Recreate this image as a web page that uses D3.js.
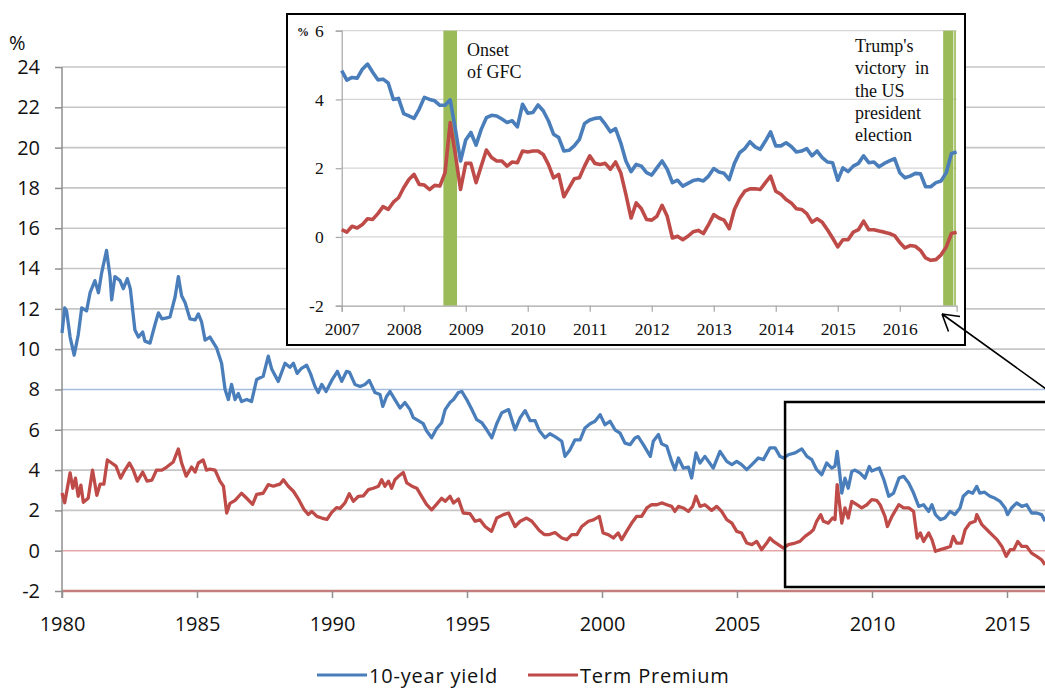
<!DOCTYPE html>
<html><head><meta charset="utf-8">
<script src="https://cdn.jsdelivr.net/npm/d3@7"></script>
<style>
body{margin:0;background:#fff}
svg{display:block}
</style></head><body>
<svg id="chart" width="1045" height="695"></svg>
<script>
// US 10-year Treasury yield and term premium, 1980 onwards (decimal years, %)
const yieldYears = [1980.0,1980.1,1980.17,1980.3,1980.45,1980.6,1980.73,1980.91,1981.04,1981.22,1981.35,1981.47,1981.65,1981.78,1981.84,1981.96,1982.15,1982.27,1982.42,1982.53,1982.7,1982.83,1982.99,1983.07,1983.26,1983.44,1983.57,1983.7,1983.88,1984.0,1984.19,1984.31,1984.43,1984.56,1984.74,1984.93,1985.05,1985.17,1985.3,1985.48,1985.73,1985.91,1986.04,1986.16,1986.28,1986.41,1986.53,1986.65,1986.84,1987.02,1987.21,1987.45,1987.64,1987.77,1988.01,1988.26,1988.44,1988.57,1988.71,1988.87,1989.06,1989.2,1989.37,1989.49,1989.62,1989.78,1989.99,1990.2,1990.36,1990.54,1990.65,1990.85,1991.04,1991.22,1991.38,1991.59,1991.78,1991.88,1992.02,1992.15,1992.33,1992.52,1992.7,1992.89,1993.01,1993.2,1993.38,1993.5,1993.69,1993.87,1994.06,1994.19,1994.37,1994.5,1994.68,1994.81,1994.99,1995.18,1995.36,1995.55,1995.73,1995.92,1996.1,1996.29,1996.54,1996.78,1996.97,1997.15,1997.34,1997.52,1997.68,1997.89,1998.07,1998.26,1998.51,1998.63,1998.81,1999.0,1999.19,1999.37,1999.56,1999.74,1999.93,2000.11,2000.3,2000.48,2000.67,2000.85,2001.04,2001.22,2001.34,2001.53,2001.79,2001.9,2002.09,2002.21,2002.4,2002.58,2002.7,2002.83,2003.01,2003.2,2003.32,2003.48,2003.63,2003.81,2004.12,2004.37,2004.62,2004.81,2004.99,2005.17,2005.36,2005.55,2005.79,2005.98,2006.22,2006.41,2006.59,2006.72,2006.9,2007.15,2007.4,2007.59,2007.77,2007.95,2008.14,2008.32,2008.51,2008.63,2008.71,2008.81,2008.88,2009.0,2009.12,2009.25,2009.37,2009.56,2009.74,2009.9,2009.99,2010.27,2010.44,2010.62,2010.8,2011.0,2011.17,2011.36,2011.54,2011.73,2011.91,2012.1,2012.22,2012.35,2012.53,2012.7,2012.89,2013.07,2013.26,2013.38,2013.57,2013.73,2013.88,2013.99,2014.17,2014.37,2014.56,2014.74,2014.93,2015.02,2015.17,2015.36,2015.55,2015.73,2015.91,2016.1,2016.28,2016.41];
const yieldValues = [10.8,12.05,11.9,10.6,9.7,10.7,12.05,11.9,12.8,13.4,12.8,13.8,14.9,13.6,12.45,13.6,13.4,13.0,13.5,13.0,10.95,10.6,10.85,10.4,10.3,11.2,11.8,11.5,11.55,11.6,12.6,13.6,12.65,12.3,11.5,11.45,11.75,11.35,10.45,10.6,10.05,9.3,8.0,7.5,8.25,7.5,7.8,7.4,7.5,7.4,8.5,8.65,9.65,9.0,8.4,9.3,9.1,9.3,8.8,9.05,9.2,8.8,8.15,7.85,8.25,7.9,8.45,8.9,8.4,8.9,8.85,8.25,8.15,8.25,8.45,7.85,7.75,7.16,7.65,7.9,7.5,7.08,7.35,7.0,6.6,6.45,6.3,5.95,5.6,6.05,6.35,7.0,7.35,7.5,7.85,7.9,7.5,7.0,6.5,6.35,6.0,5.6,6.3,6.85,7.0,6.0,6.6,6.95,6.45,6.45,5.95,5.6,5.8,5.66,5.43,4.68,5.0,5.5,5.5,6.09,6.3,6.42,6.75,6.25,6.42,6.0,5.83,5.34,5.26,5.59,5.66,5.26,4.68,5.43,5.76,5.3,5.18,4.43,4.02,4.6,4.1,4.15,3.61,4.85,4.35,4.68,4.1,4.93,4.43,4.27,4.43,4.27,4.02,4.27,4.6,4.52,5.1,5.1,4.68,4.6,4.76,4.85,5.05,4.68,4.52,4.02,3.77,4.35,4.1,4.2,4.93,3.77,2.86,3.6,3.1,3.93,4.0,3.85,3.6,4.18,3.95,4.1,3.52,2.7,2.86,3.6,3.69,3.36,2.86,2.2,2.28,1.95,2.28,1.79,1.54,1.62,1.95,1.79,2.12,2.7,2.94,2.85,3.19,2.86,2.9,2.7,2.6,2.45,2.12,1.79,2.12,2.37,2.2,2.28,1.87,1.87,1.79,1.46];
const premiumYears = [1980.0,1980.1,1980.3,1980.4,1980.5,1980.6,1980.7,1980.79,1980.97,1981.13,1981.29,1981.41,1981.55,1981.68,1981.84,1982.0,1982.17,1982.33,1982.5,1982.64,1982.79,1982.99,1983.15,1983.33,1983.5,1983.7,1983.88,1984.12,1984.31,1984.43,1984.6,1984.8,1984.93,1985.05,1985.23,1985.35,1985.48,1985.67,1985.85,1985.98,1986.1,1986.22,1986.41,1986.65,1986.84,1987.06,1987.21,1987.45,1987.64,1987.83,1988.07,1988.2,1988.38,1988.57,1988.77,1988.96,1989.12,1989.25,1989.44,1989.62,1989.81,1989.99,1990.17,1990.3,1990.48,1990.64,1990.79,1990.98,1991.16,1991.35,1991.53,1991.72,1991.84,1991.96,1992.09,1992.21,1992.33,1992.46,1992.64,1992.77,1992.96,1993.14,1993.32,1993.5,1993.69,1993.87,1994.06,1994.19,1994.37,1994.5,1994.68,1994.86,1995.11,1995.3,1995.48,1995.67,1995.91,1996.1,1996.35,1996.54,1996.78,1996.97,1997.21,1997.4,1997.68,1997.86,1998.05,1998.26,1998.51,1998.7,1998.88,1999.07,1999.25,1999.5,1999.68,1999.9,2000.04,2000.23,2000.42,2000.6,2000.73,2000.91,2001.1,2001.28,2001.47,2001.66,2001.84,2002.03,2002.21,2002.4,2002.58,2002.7,2002.83,2003.01,2003.2,2003.36,2003.48,2003.63,2003.81,2004.06,2004.25,2004.43,2004.62,2004.81,2004.99,2005.17,2005.36,2005.55,2005.73,2005.91,2006.1,2006.22,2006.35,2006.53,2006.72,2006.9,2007.15,2007.33,2007.52,2007.7,2007.83,2007.95,2008.1,2008.2,2008.38,2008.54,2008.63,2008.71,2008.81,2008.88,2009.0,2009.12,2009.25,2009.44,2009.62,2009.81,2009.99,2010.17,2010.3,2010.48,2010.57,2010.74,2010.99,2011.17,2011.36,2011.54,2011.67,2011.79,2011.91,2012.1,2012.22,2012.35,2012.53,2012.72,2012.9,2013.01,2013.13,2013.32,2013.45,2013.63,2013.82,2013.88,2014.07,2014.26,2014.44,2014.63,2014.81,2014.97,2015.12,2015.25,2015.4,2015.55,2015.73,2015.91,2016.1,2016.28,2016.41];
const premiumValues = [2.86,2.38,3.86,3.1,3.6,2.7,3.25,2.4,2.6,4.0,2.75,3.3,3.3,4.5,4.35,4.2,3.6,4.0,4.35,4.0,3.45,3.9,3.45,3.5,4.0,4.0,4.15,4.4,5.05,4.35,3.7,4.15,3.9,4.35,4.5,4.0,4.05,4.0,3.45,3.2,1.87,2.35,2.5,2.85,2.6,2.3,2.8,2.85,3.28,3.2,3.3,3.52,3.2,2.95,2.53,2.05,1.8,1.95,1.7,1.62,1.55,1.9,2.14,2.1,2.37,2.83,2.45,2.7,2.72,3.03,3.1,3.2,3.52,3.2,3.45,3.1,3.52,3.69,3.88,3.36,3.2,3.1,2.7,2.3,2.03,2.3,2.6,2.45,2.7,2.37,2.57,1.87,1.84,1.46,1.53,1.2,0.96,1.62,1.79,1.87,1.2,1.46,1.62,1.46,1.0,0.8,0.8,0.9,0.63,0.55,0.8,0.8,1.2,1.46,1.53,1.7,0.88,0.8,0.63,0.88,0.55,0.96,1.37,1.7,1.7,2.12,2.28,2.28,2.37,2.28,2.2,1.95,2.2,2.12,1.95,2.2,2.7,2.2,2.28,2.0,2.2,1.95,1.54,1.37,0.96,0.88,0.38,0.3,0.46,0.05,0.38,0.63,0.46,0.3,0.13,0.3,0.38,0.46,0.71,0.88,1.04,1.46,1.79,1.46,1.37,1.62,1.55,3.28,2.2,1.37,2.12,1.62,2.45,2.28,2.12,2.28,2.53,2.5,2.28,1.7,1.2,1.7,2.28,2.12,2.12,1.95,0.63,0.88,0.46,0.88,0.55,-0.03,0.05,0.13,0.21,0.71,0.38,0.38,1.04,1.37,1.46,1.79,1.29,1.04,0.8,0.55,0.21,-0.28,0.05,0.05,0.46,0.21,0.21,-0.12,-0.28,-0.45,-0.7];

// Month-end values, January 2007 to December 2016
const insetStartYear = 2007;
const insetYield = [4.84,4.56,4.64,4.62,4.88,5.03,4.79,4.57,4.59,4.48,4.0,4.03,
  3.59,3.52,3.45,3.72,4.06,4.0,3.96,3.83,3.83,3.99,3.13,2.21,
  2.82,3.04,2.67,3.13,3.47,3.54,3.52,3.43,3.33,3.38,3.2,3.86,
  3.6,3.62,3.84,3.67,3.38,2.99,2.89,2.5,2.52,2.65,2.84,3.3,
  3.4,3.45,3.47,3.28,3.06,3.15,2.74,2.21,1.9,2.11,2.06,1.87,
  1.8,2.01,2.21,1.97,1.58,1.65,1.48,1.56,1.64,1.67,1.63,1.77,
  1.99,1.89,1.85,1.67,2.14,2.45,2.57,2.77,2.62,2.55,2.79,3.06,
  2.65,2.65,2.74,2.63,2.47,2.5,2.57,2.36,2.5,2.31,2.18,2.16,
  1.65,2.01,1.9,2.06,2.14,2.36,2.16,2.18,2.04,2.14,2.21,2.28,
  1.87,1.72,1.77,1.85,1.84,1.46,1.46,1.58,1.63,1.87,2.43,2.47];
const insetPremium = [0.21,0.14,0.31,0.26,0.36,0.53,0.51,0.68,0.88,0.8,1.01,1.14,
  1.43,1.67,1.82,1.53,1.51,1.38,1.5,1.48,1.87,3.33,2.4,1.38,
  2.14,2.14,1.58,2.06,2.53,2.31,2.21,2.21,2.06,2.18,2.16,2.5,
  2.47,2.5,2.5,2.4,2.11,1.72,1.82,1.17,1.43,1.69,1.72,2.06,
  2.36,2.14,2.11,2.14,1.97,2.18,1.87,1.24,0.55,0.99,0.82,0.51,
  0.49,0.6,0.92,0.6,-0.03,0.02,-0.08,0.02,0.15,0.19,0.1,0.36,
  0.65,0.55,0.49,0.24,0.8,1.11,1.33,1.4,1.4,1.38,1.58,1.77,
  1.33,1.24,1.09,0.99,0.82,0.8,0.68,0.43,0.53,0.43,0.21,-0.03,
  -0.29,-0.08,-0.08,0.14,0.21,0.46,0.21,0.21,0.17,0.14,0.1,0.04,
  -0.16,-0.32,-0.25,-0.27,-0.39,-0.61,-0.68,-0.66,-0.52,-0.29,0.1,0.14];

const mainYTicks = [-2,0,2,4,6,8,10,12,14,16,18,20,22,24];
const mainXTicks = [1980,1985,1990,1995,2000,2005,2010,2015];
const insetYTicks = [-2,0,2,4,6];
const insetXTicks = [2007,2008,2009,2010,2011,2012,2013,2014,2015,2016];
const seriesNames = ["10-year yield","Term Premium"];
const gfcBand = [2008.64, 2008.86];
const electionBand = [2016.70, 2016.865];
const electionSliver = [2016.878, 2016.905];
const zoomWindow = [2006.78, 2016.4];
const gfcNote = ["Onset","of GFC"];
const electionNote = ["Trump's","victory  in","the US","president","election"];

const BLUE = "#4a7ebb", RED = "#be4b48", GREEN = "#9bbb59";
const sans = "'Open Sans', sans-serif", serif = "'Liberation Serif', 'Times New Roman', serif";

const svg = d3.select("#chart");

// ---------- main chart ----------
const xMain = d3.scaleLinear().domain([1980, 2016.4]).range([62, 1044.8]);
const yMain = d3.scaleLinear().domain([-2, 24]).range([591, 67]);

const gridColor = v => v === 8 ? "#a3bde0" : v === 0 ? "#e4a9a7" : v === -2 ? "#c47f7d" : "#c6c6c6";
svg.append("g").selectAll("line").data(mainYTicks).join("line")
  .attr("x1", 62).attr("x2", 1045)
  .attr("y1", d => yMain(d)).attr("y2", d => yMain(d))
  .attr("stroke", gridColor)
  .attr("stroke-width", d => d === -2 ? 2.6 : 1.6);

const yAx = svg.append("g").attr("transform", "translate(62,0)")
  .call(d3.axisLeft(yMain).tickValues(mainYTicks).tickSize(7).tickPadding(15).tickFormat(d => String(d)));
yAx.select(".domain").remove();
yAx.selectAll("line").attr("stroke", "#8f8f8f").attr("stroke-width", 1.5);
yAx.selectAll("text").attr("font-family", sans).attr("font-size", 20).attr("fill", "#111");

const xAx = svg.append("g").attr("transform", `translate(0,${yMain(-2)})`)
  .call(d3.axisBottom(xMain).tickValues(mainXTicks).tickSize(7).tickFormat(d => String(d)));
xAx.select(".domain").remove();
xAx.selectAll("line").attr("stroke", "#8f8f8f").attr("stroke-width", 1.5);
xAx.selectAll("text").attr("font-family", sans).attr("font-size", 20).attr("fill", "#111")
  .attr("dy", null).attr("y", 40);

svg.append("line").attr("x1", 62).attr("x2", 62).attr("y1", yMain(24)).attr("y2", yMain(-2) + 7)
  .attr("stroke", "#8f8f8f").attr("stroke-width", 1.5);

svg.append("text").attr("x", 9).attr("y", 50).attr("font-family", sans).attr("font-size", 20)
  .attr("fill", "#111").text("%");

const mainLine = d3.line().x(d => xMain(d[0])).y(d => yMain(d[1])).curve(d3.curveLinear);
svg.append("path").datum(d3.zip(yieldYears, yieldValues)).attr("d", mainLine)
  .attr("fill", "none").attr("stroke", BLUE).attr("stroke-width", 3.3).attr("stroke-linejoin", "round");
svg.append("path").datum(d3.zip(premiumYears, premiumValues)).attr("d", mainLine)
  .attr("fill", "none").attr("stroke", RED).attr("stroke-width", 3.3).attr("stroke-linejoin", "round");

// highlighted window
svg.append("rect")
  .attr("x", xMain(zoomWindow[0])).attr("y", 402)
  .attr("width", 400).attr("height", 185)
  .attr("fill", "none").attr("stroke", "#000").attr("stroke-width", 2.5);

// ---------- inset ----------
svg.append("rect").attr("x", 287).attr("y", 14).attr("width", 678).attr("height", 331)
  .attr("fill", "#fff").attr("stroke", "#000").attr("stroke-width", 2);

const insetDate = i => insetStartYear + i / 12;
const xIn = d3.scaleLinear().domain([2007, insetDate(119)]).range([341.7, 956.6]);
const yIn = d3.scaleLinear().domain([-2, 6]).range([305.7, 30.7]);

svg.append("g").selectAll("line").data(insetYTicks.filter(d => d > -2)).join("line")
  .attr("x1", xIn(2007)).attr("x2", xIn(insetDate(119)))
  .attr("y1", d => yIn(d)).attr("y2", d => yIn(d))
  .attr("stroke", "#d6d6d6").attr("stroke-width", 1.2);

const band = r => svg.append("rect")
  .attr("x", xIn(r[0])).attr("width", xIn(r[1]) - xIn(r[0]))
  .attr("y", yIn(6)).attr("height", yIn(-2) - yIn(6)).attr("fill", GREEN);
band(gfcBand); band(electionBand); band(electionSliver);

const yInAx = svg.append("g").attr("transform", `translate(${xIn(2007)},0)`)
  .call(d3.axisLeft(yIn).tickValues(insetYTicks).tickSize(6).tickPadding(12).tickFormat(d => String(d)));
yInAx.select(".domain").attr("stroke", "#a6a6a6").attr("stroke-width", 1.2);
yInAx.selectAll("line").attr("stroke", "#a6a6a6").attr("stroke-width", 1.2);
yInAx.selectAll("text").attr("font-family", serif).attr("font-size", 17.5).attr("fill", "#111");

const xInAx = svg.append("g").attr("transform", `translate(0,${yIn(-2)})`)
  .call(d3.axisBottom(xIn).tickValues(insetXTicks).tickSize(6).tickFormat(d => String(d)));
xInAx.select(".domain").attr("stroke", "#a6a6a6").attr("stroke-width", 1.2);
xInAx.selectAll("line").attr("stroke", "#a6a6a6").attr("stroke-width", 1.2);
xInAx.selectAll("text").attr("font-family", serif).attr("font-size", 17.5).attr("fill", "#111")
  .attr("dy", null).attr("y", 29);

svg.append("text").attr("x", 297).attr("y", 36).attr("font-family", serif).attr("font-size", 12)
  .attr("font-weight", "bold").attr("fill", "#111").text("%");

const insetLine = d3.line().x((d, i) => xIn(insetDate(i))).y(d => yIn(d));
svg.append("path").datum(insetYield).attr("d", insetLine)
  .attr("fill", "none").attr("stroke", BLUE).attr("stroke-width", 3.6).attr("stroke-linejoin", "round");
svg.append("path").datum(insetPremium).attr("d", insetLine)
  .attr("fill", "none").attr("stroke", RED).attr("stroke-width", 3.6).attr("stroke-linejoin", "round");

svg.append("g").selectAll("text").data(gfcNote).join("text")
  .attr("x", 467).attr("y", (d, i) => 56 + i * 22.3)
  .attr("font-family", serif).attr("font-size", 18).attr("fill", "#111").text(d => d);
svg.append("g").selectAll("text").data(electionNote).join("text")
  .attr("x", 855).attr("y", (d, i) => 52 + i * 22.3)
  .style("white-space", "pre")
  .attr("font-family", serif).attr("font-size", 18).attr("fill", "#111").text(d => d);

// pointer from the window to the inset
svg.append("path")
  .attr("d", "M1046,389 L942,314 M942,314 L960,316.5 M942,314 L948.5,331.5")
  .attr("fill", "none").attr("stroke", "#000").attr("stroke-width", 1.6);

// ---------- legend ----------
const legend = svg.append("g");
const legendItems = [{name: seriesNames[0], color: BLUE, x: 317}, {name: seriesNames[1], color: RED, x: 528}];
legend.selectAll("line").data(legendItems).join("line")
  .attr("x1", d => d.x).attr("x2", d => d.x + 50).attr("y1", 675).attr("y2", 675)
  .attr("stroke", d => d.color).attr("stroke-width", 3);
legend.selectAll("text").data(legendItems).join("text")
  .attr("x", d => d.x + 52).attr("y", 683)
  .attr("font-family", sans).attr("font-size", 20).attr("letter-spacing", 0.8)
  .attr("fill", "#111").text(d => d.name);
</script>
</body></html>
